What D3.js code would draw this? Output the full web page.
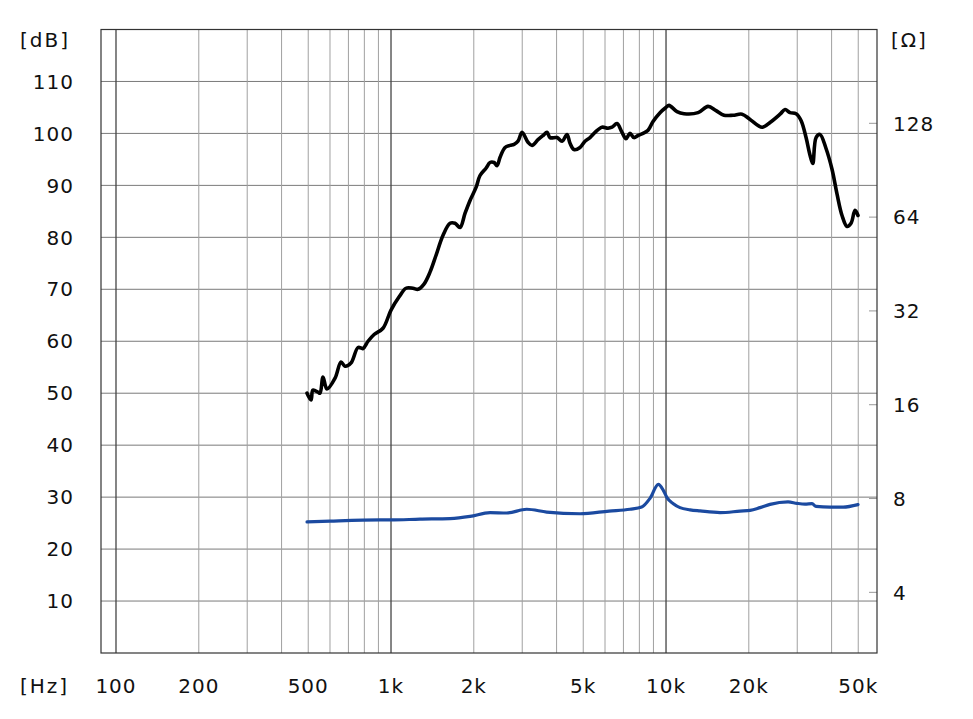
<!DOCTYPE html>
<html><head><meta charset="utf-8">
<script src="https://cdn.jsdelivr.net/npm/d3@7"></script>
<style>
html,body{margin:0;padding:0;background:#fff;}
svg text{font-family:"DejaVu Sans",sans-serif;font-size:20px;fill:#111;}
</style></head>
<body><svg id="c" width="973" height="719"></svg>
<script>
// ---- data ----
const splFreq = [495,512,520,543,552,566,585,626,658,680,715,759,791,825,868,935,1000,1069,1134,1202,1254,1318,1386,1457,1546,1639,1709,1782,1858,1938,2038,2107,2215,2291,2369,2429,2492,2598,2709,2802,2896,2995,3149,3256,3424,3570,3692,3786,4014,4187,4365,4476,4629,4867,5075,5292,5518,5850,6152,6362,6633,6918,7152,7395,7646,7910,8250,8603,8970,9511,10000,10250,10960,11630,13080,14210,15200,16250,17520,18900,20210,22350,23890,25980,27090,28250,29700,30970,32300,33390,34160,35120,36300,38180,40140,41870,43650,45520,47070,48670,49900];
const splDb = [50.0,48.7,50.6,50.2,50.0,53.1,50.8,52.9,56.0,55.2,55.8,58.8,58.6,60.0,61.3,62.5,66.0,68.5,70.2,70.2,70.0,71.0,73.3,76.5,80.4,82.7,82.7,81.9,84.6,87.1,89.6,91.9,93.3,94.4,94.4,93.8,95.4,97.3,97.7,97.9,98.5,100.2,98.3,97.7,98.8,99.6,100.2,99.2,99.2,98.5,99.8,98.1,96.9,97.3,98.5,99.2,100.2,101.2,101.0,101.2,101.9,100.2,99.0,100.0,99.2,99.6,100.0,100.6,102.3,104.0,105.0,105.4,104.2,103.8,104.0,105.2,104.4,103.5,103.5,103.7,102.7,101.2,102.1,103.7,104.6,104.0,103.8,102.5,99.2,95.8,94.2,99.2,99.8,97.1,93.1,88.3,84.2,82.1,82.7,85.2,84.2];
const impFreq = [495,600,912,1000,1275,1639,1938,2291,2635,3115,3684,4867,6204,7395,8158,8745,9376,9777,10080,10630,11240,12230,13300,15720,18580,20210,21970,23890,27770,29950,32020,33960,35120,39480,44020,49900];
const impOhm = [6.73,6.77,6.83,6.83,6.87,6.90,7.01,7.21,7.19,7.39,7.24,7.15,7.29,7.39,7.51,8.01,8.88,8.50,8.05,7.70,7.48,7.36,7.30,7.21,7.29,7.33,7.48,7.66,7.80,7.72,7.68,7.70,7.55,7.51,7.51,7.65];
const xTicks = [100,200,500,1000,2000,5000,10000,20000,50000];
const xTickLabels = ["100","200","500","1k","2k","5k","10k","20k","50k"];
const xGrid = [100,200,300,400,500,600,700,800,900,1000,2000,3000,4000,5000,6000,7000,8000,9000,10000,20000,30000,40000,50000];
const xMajor = [100,1000,10000];
const dbTicks = [10,20,30,40,50,60,70,80,90,100,110];
const ohmTicks = [4,8,16,32,64,128];

// ---- layout ----
const L = 101, R = 877, T = 29.5, B = 653;
const svg = d3.select("#c");
const x = d3.scaleLog().domain([88.2, 58500]).range([L, R]);
const y = d3.scaleLinear().domain([0, 120]).range([B, T]);
const yo = d3.scaleLog().base(2).domain([2.555, 256]).range([B, T]);

// grid
const g = svg.append("g");
g.selectAll("line.h").data(dbTicks).enter().append("line")
  .attr("x1", L).attr("x2", R).attr("y1", d => y(d)).attr("y2", d => y(d))
  .attr("stroke", "#7a7a7a").attr("stroke-width", 1);
g.selectAll("line.v").data(xGrid).enter().append("line")
  .attr("x1", d => x(d)).attr("x2", d => x(d)).attr("y1", T).attr("y2", B)
  .attr("stroke", d => xMajor.includes(d) ? "#444" : "#a0a0a0")
  .attr("stroke-width", d => xMajor.includes(d) ? 1.3 : 1);
// right ohm ticks
g.selectAll("line.o").data(ohmTicks).enter().append("line")
  .attr("x1", R - 8).attr("x2", R).attr("y1", d => yo(d)).attr("y2", d => yo(d))
  .attr("stroke", "#999").attr("stroke-width", 1);
// frame
svg.append("rect").attr("x", L).attr("y", T).attr("width", R - L).attr("height", B - T)
  .attr("fill", "none").attr("stroke", "#333").attr("stroke-width", 1.2);

// curves
const spl = splFreq.map((f, i) => [f, splDb[i]]);
const imp = impFreq.map((f, i) => [f, impOhm[i]]);
svg.append("path").datum(imp)
  .attr("d", d3.line().x(d => x(d[0])).y(d => yo(d[1])).curve(d3.curveMonotoneX))
  .attr("fill", "none").attr("stroke", "#1b4aa0").attr("stroke-width", 3.2)
  .attr("stroke-linejoin", "round").attr("stroke-linecap", "round");
svg.append("path").datum(spl)
  .attr("d", d3.line().x(d => x(d[0])).y(d => y(d[1])).curve(d3.curveCatmullRom.alpha(0.5)))
  .attr("fill", "none").attr("stroke", "#000").attr("stroke-width", 3.6)
  .attr("stroke-linejoin", "round").attr("stroke-linecap", "round");

// labels
const lab = svg.append("g");
lab.selectAll("text.db").data(dbTicks).enter().append("text")
  .attr("x", 74).attr("y", d => y(d)).attr("dy", "0.36em").attr("text-anchor", "end")
  .style("letter-spacing", "1px").text(d => d);
lab.selectAll("text.oh").data(ohmTicks).enter().append("text")
  .attr("x", 893).attr("y", d => yo(d)).attr("dy", "0.36em").attr("text-anchor", "start")
  .style("letter-spacing", "1px").text(d => d);
lab.selectAll("text.hz").data(xTicks).enter().append("text")
  .attr("x", d => x(d)).attr("y", 686).attr("dy", "0.36em").attr("text-anchor", "middle")
  .style("letter-spacing", "1px").text((d, i) => xTickLabels[i]);
lab.append("text").attr("x", 20).attr("y", 40).attr("dy", "0.36em").style("letter-spacing", "2px").text("[dB]");
lab.append("text").attr("x", 891).attr("y", 40).attr("dy", "0.36em").style("letter-spacing", "2px").text("[Ω]");
lab.append("text").attr("x", 20).attr("y", 686).attr("dy", "0.36em").style("letter-spacing", "2px").text("[Hz]");
</script></body></html>
